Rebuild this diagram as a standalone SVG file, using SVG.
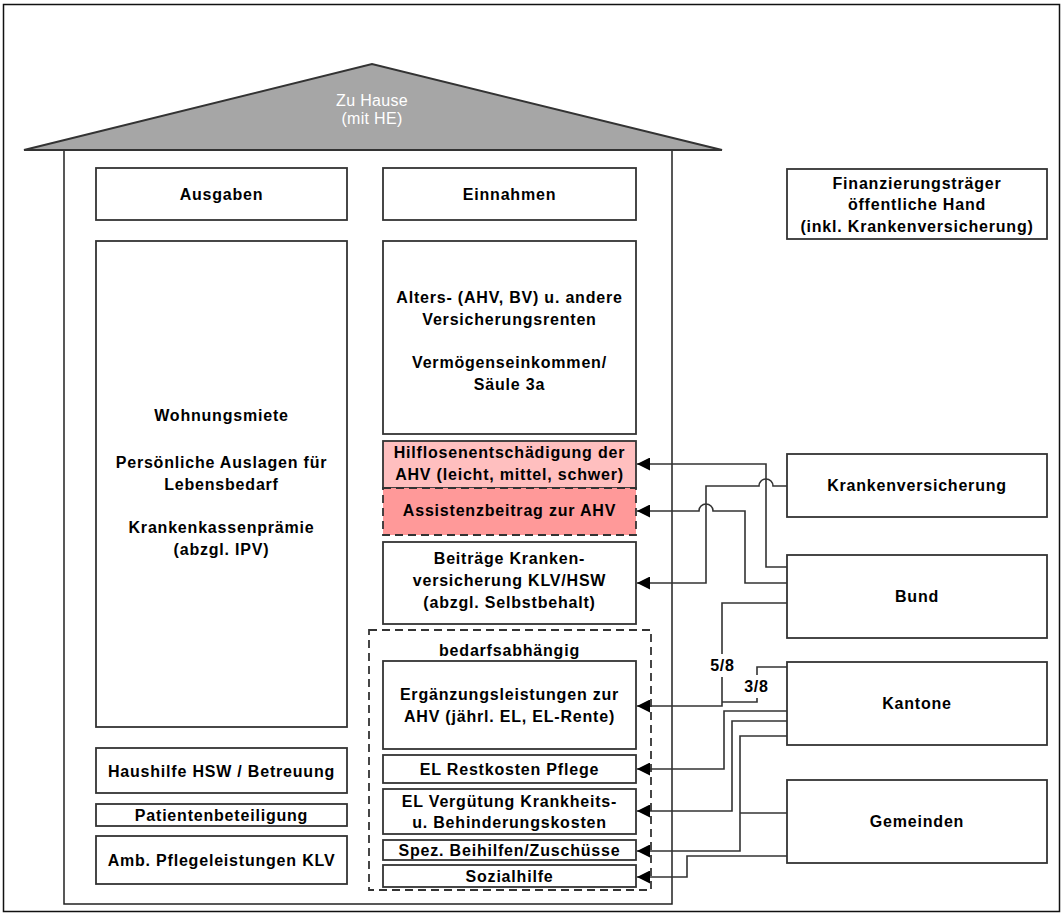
<svg xmlns="http://www.w3.org/2000/svg" width="1064" height="916" viewBox="0 0 1064 916">
<style>
.bx{fill:#fff;stroke:#333;stroke-width:1.8}
.t{font-family:"Liberation Sans",Arial,sans-serif;font-weight:bold;font-size:16px;letter-spacing:0.8px;fill:#000;text-anchor:middle}
.c{fill:none;stroke:#333;stroke-width:1.6}
.dash{stroke-dasharray:8 5}
</style>
<defs>
<marker id="ah" viewBox="0 0 10 10" refX="10" refY="5" markerWidth="17" markerHeight="13" markerUnits="userSpaceOnUse" orient="auto">
<path d="M0,0 L10,5 L0,10 Z" fill="#000"/>
</marker>
</defs>
<rect x="0" y="0" width="1064" height="916" fill="#fff"/>
<rect x="3.5" y="4.5" width="1056" height="907" fill="none" stroke="#111" stroke-width="1.5"/>

<g id="house">
<polyline points="64,150 64,904 672,904 672,150" fill="none" stroke="#222" stroke-width="1.5"/>
<polygon points="24,150 372,64 722,150" fill="#a6a6a6" stroke="#333" stroke-width="2"/>
<text x="372" y="106" font-family="Liberation Sans,Arial,sans-serif" font-size="16" letter-spacing="0.3" fill="#fff" text-anchor="middle">Zu Hause</text>
<text x="372" y="124" font-family="Liberation Sans,Arial,sans-serif" font-size="16" letter-spacing="0.3" fill="#fff" text-anchor="middle">(mit HE)</text>
</g>

<g id="ausgaben"><rect class="bx" x="96" y="168" width="251" height="52"/><text class="t" x="221.5" y="200">Ausgaben</text></g>
<g id="einnahmen"><rect class="bx" x="383" y="168" width="253" height="52"/><text class="t" x="509.5" y="200">Einnahmen</text></g>
<g id="finanzierungstraeger"><rect class="bx" x="787" y="169" width="260" height="70"/>
<text class="t" x="917" y="189">Finanzierungsträger</text>
<text class="t" x="917" y="210">öffentliche Hand</text>
<text class="t" x="917" y="232">(inkl. Krankenversicherung)</text></g>

<g id="lebenskosten"><rect class="bx" x="96" y="241" width="251" height="486"/>
<text class="t" x="221.5" y="421">Wohnungsmiete</text>
<text class="t" x="221.5" y="468">Persönliche Auslagen für</text>
<text class="t" x="221.5" y="490">Lebensbedarf</text>
<text class="t" x="221.5" y="533">Krankenkassenprämie</text>
<text class="t" x="221.5" y="555">(abzgl. IPV)</text></g>
<g id="haushilfe"><rect class="bx" x="96" y="748" width="251" height="45"/><text class="t" x="221.5" y="777">Haushilfe HSW / Betreuung</text></g>
<g id="patientenbeteiligung"><rect class="bx" x="96" y="804" width="251" height="22"/><text class="t" x="221.5" y="821">Patientenbeteiligung</text></g>
<g id="ambpflege"><rect class="bx" x="96" y="836" width="251" height="48"/><text class="t" x="221.5" y="866">Amb. Pflegeleistungen KLV</text></g>

<g id="renten"><rect class="bx" x="383" y="241" width="253" height="193"/>
<text class="t" x="509.5" y="303">Alters- (AHV, BV) u. andere</text>
<text class="t" x="509.5" y="325">Versicherungsrenten</text>
<text class="t" x="509.5" y="368">Vermögenseinkommen/</text>
<text class="t" x="509.5" y="390">Säule 3a</text></g>
<g id="hilflosen"><rect x="383" y="441" width="253" height="47" fill="#ffbfbf" stroke="#333" stroke-width="1.8"/>
<text class="t" x="509.5" y="458">Hilflosenentschädigung der</text>
<text class="t" x="509.5" y="480">AHV (leicht, mittel, schwer)</text></g>
<g id="assistenz"><rect class="dash" x="383" y="488" width="253" height="47" fill="#ff9999" stroke="#333" stroke-width="1.8"/>
<text class="t" x="509.5" y="516">Assistenzbeitrag zur AHV</text></g>
<g id="kvbeitraege"><rect class="bx" x="383" y="542" width="253" height="82"/>
<text class="t" x="509.5" y="564">Beiträge Kranken-</text>
<text class="t" x="509.5" y="586">versicherung KLV/HSW</text>
<text class="t" x="509.5" y="608">(abzgl. Selbstbehalt)</text></g>
<g id="bedarfsabhaengig"><rect class="dash" x="369" y="630" width="282" height="260" fill="none" stroke="#333" stroke-width="1.8"/>
<text class="t" x="509.5" y="656">bedarfsabhängig</text></g>
<g id="el"><rect class="bx" x="383" y="661" width="253" height="88"/>
<text class="t" x="509.5" y="700">Ergänzungsleistungen zur</text>
<text class="t" x="509.5" y="722">AHV (jährl. EL, EL-Rente)</text></g>
<g id="elpflege"><rect class="bx" x="383" y="755" width="253" height="28"/><text class="t" x="509.5" y="775">EL Restkosten Pflege</text></g>
<g id="elvergutung"><rect class="bx" x="383" y="789" width="253" height="45"/>
<text class="t" x="509.5" y="807">EL Vergütung Krankheits-</text>
<text class="t" x="509.5" y="828">u. Behinderungskosten</text></g>
<g id="beihilfen"><rect class="bx" x="383" y="840" width="253" height="20"/><text class="t" x="509.5" y="856">Spez. Beihilfen/Zuschüsse</text></g>
<g id="sozialhilfe"><rect class="bx" x="383" y="865" width="253" height="22"/><text class="t" x="509.5" y="882">Sozialhilfe</text></g>

<g id="krankenversicherung"><rect class="bx" x="787" y="454" width="260" height="63"/><text class="t" x="917" y="491">Krankenversicherung</text></g>
<g id="bund"><rect class="bx" x="787" y="555" width="260" height="83"/><text class="t" x="917" y="602">Bund</text></g>
<g id="kantone"><rect class="bx" x="787" y="662" width="260" height="83"/><text class="t" x="917" y="709">Kantone</text></g>
<g id="gemeinden"><rect class="bx" x="787" y="780" width="260" height="83"/><text class="t" x="917" y="827">Gemeinden</text></g>

<g id="connectors">
<path class="c" marker-end="url(#ah)" d="M787,567 H766 V464 H637"/>
<path class="c" marker-end="url(#ah)" d="M787,486 H773 A7,7 0 0 0 759,486 H706 V583 H637"/>
<path class="c" marker-end="url(#ah)" d="M787,583 H745 V511 H713 A7,7 0 0 0 699,511 H637"/>
<path class="c" marker-end="url(#ah)" d="M787,603 H722 V706 H637"/>
<path class="c" d="M787,667 H757 V702 H722"/>
<path class="c" marker-end="url(#ah)" d="M787,711 H724 V769 H637"/>
<path class="c" marker-end="url(#ah)" d="M787,721 H732 V811 H637"/>
<path class="c" marker-end="url(#ah)" d="M787,736 H740 V851 H637"/>
<path class="c" d="M787,813 H740"/>
<path class="c" marker-end="url(#ah)" d="M787,856 H687 V877 H637"/>
<rect x="709" y="654" width="27" height="23" fill="#fff"/>
<text class="t" x="722.5" y="671" font-size="14" letter-spacing="0">5/8</text>
<rect x="743" y="675" width="27" height="23" fill="#fff"/>
<text class="t" x="756.5" y="692" font-size="14" letter-spacing="0">3/8</text>
</g>
</svg>
